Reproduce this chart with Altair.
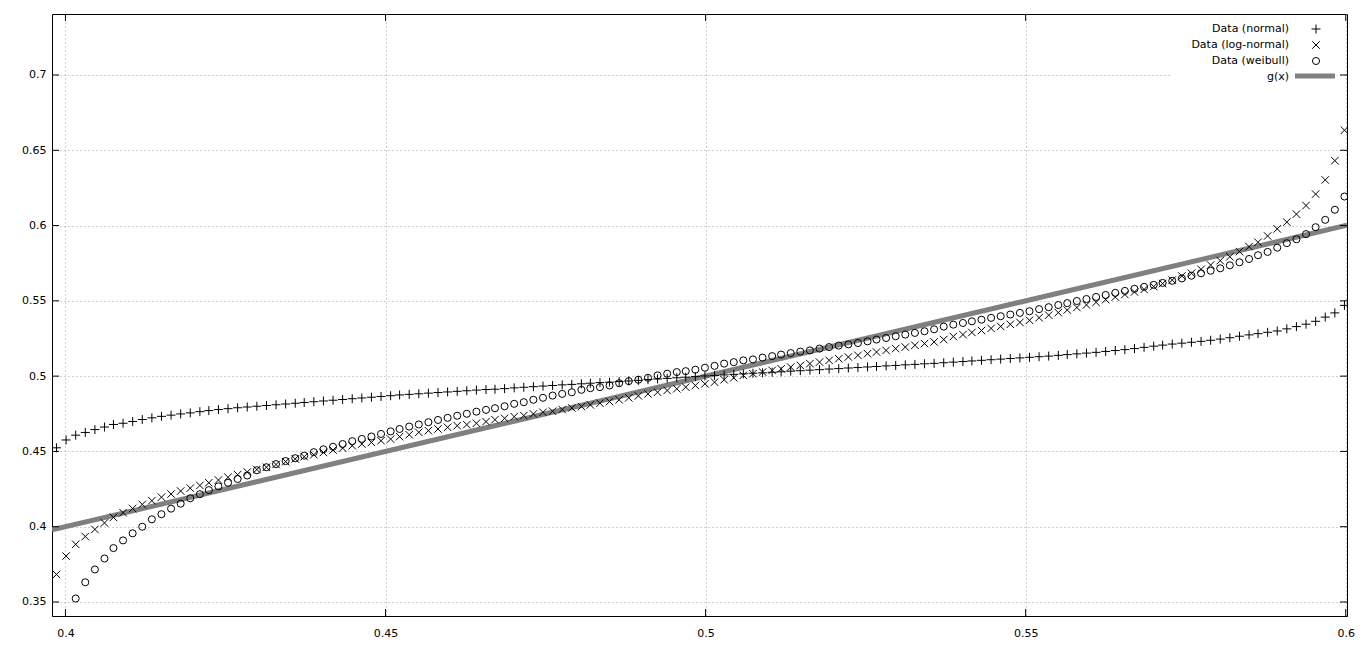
import altair as alt
import pandas as pd

# ---------------- data ----------------
x_vals = [
    0.3986, 0.4001, 0.4016, 0.4031, 0.4046, 0.4061, 0.4075, 0.4090, 0.4105, 0.4120,
    0.4135, 0.4150, 0.4165, 0.4180, 0.4195, 0.4210, 0.4224, 0.4239, 0.4254, 0.4269,
    0.4284, 0.4299, 0.4314, 0.4329, 0.4344, 0.4359, 0.4373, 0.4388, 0.4403, 0.4418,
    0.4433, 0.4448, 0.4463, 0.4478, 0.4493, 0.4508, 0.4522, 0.4537, 0.4552, 0.4567,
    0.4582, 0.4597, 0.4612, 0.4627, 0.4642, 0.4657, 0.4671, 0.4686, 0.4701, 0.4716,
    0.4731, 0.4746, 0.4761, 0.4776, 0.4791, 0.4806, 0.4820, 0.4835, 0.4850, 0.4865,
    0.4880, 0.4895, 0.4910, 0.4925, 0.4940, 0.4955, 0.4969, 0.4984, 0.4999, 0.5014,
    0.5029, 0.5044, 0.5059, 0.5074, 0.5089, 0.5104, 0.5118, 0.5133, 0.5148, 0.5163,
    0.5178, 0.5193, 0.5208, 0.5223, 0.5238, 0.5253, 0.5267, 0.5282, 0.5297, 0.5312,
    0.5327, 0.5342, 0.5357, 0.5372, 0.5387, 0.5402, 0.5416, 0.5431, 0.5446, 0.5461,
    0.5476, 0.5491, 0.5506, 0.5521, 0.5536, 0.5551, 0.5565, 0.5580, 0.5595, 0.5610,
    0.5625, 0.5640, 0.5655, 0.5670, 0.5685, 0.5700, 0.5714, 0.5729, 0.5744, 0.5759,
    0.5774, 0.5789, 0.5804, 0.5819, 0.5834, 0.5849, 0.5863, 0.5878, 0.5893, 0.5908,
    0.5923, 0.5938, 0.5953, 0.5968, 0.5983, 0.5998,
]

normal = [
    0.4524, 0.4576, 0.4608, 0.4626, 0.4645, 0.4662, 0.4679, 0.4687, 0.4699, 0.4712,
    0.4723, 0.4733, 0.4741, 0.4749, 0.4756, 0.4764, 0.4771, 0.4778, 0.4784, 0.4790,
    0.4795, 0.4800, 0.4805, 0.4810, 0.4815, 0.4820, 0.4825, 0.4830, 0.4835, 0.4840,
    0.4845, 0.4850, 0.4855, 0.4860, 0.4865, 0.4870, 0.4875, 0.4879, 0.4883, 0.4887,
    0.4891, 0.4895, 0.4899, 0.4903, 0.4907, 0.4911, 0.4913, 0.4917, 0.4922, 0.4926,
    0.4930, 0.4934, 0.4938, 0.4942, 0.4945, 0.4949, 0.4953, 0.4957, 0.4960, 0.4964,
    0.4968, 0.4972, 0.4977, 0.4981, 0.4985, 0.4989, 0.4993, 0.4997, 0.5001, 0.5005,
    0.5008, 0.5012, 0.5015, 0.5019, 0.5022, 0.5026, 0.5029, 0.5033, 0.5036, 0.5040,
    0.5043, 0.5047, 0.5050, 0.5054, 0.5057, 0.5061, 0.5064, 0.5068, 0.5071, 0.5075,
    0.5078, 0.5082, 0.5085, 0.5089, 0.5093, 0.5097, 0.5101, 0.5105, 0.5109, 0.5113,
    0.5117, 0.5121, 0.5125, 0.5129, 0.5133, 0.5138, 0.5143, 0.5148, 0.5153, 0.5158,
    0.5164, 0.5170, 0.5176, 0.5183, 0.5191, 0.5199, 0.5206, 0.5213, 0.5219, 0.5225,
    0.5231, 0.5238, 0.5246, 0.5255, 0.5265, 0.5274, 0.5282, 0.5291, 0.5300, 0.5314,
    0.5329, 0.5345, 0.5364, 0.5392, 0.5420, 0.5470,
]

lognormal = [
    0.3683, 0.3805, 0.3883, 0.3935, 0.3982, 0.4025, 0.4062, 0.4093, 0.4121, 0.4148,
    0.4173, 0.4196, 0.4217, 0.4237, 0.4256, 0.4274, 0.4292, 0.4310, 0.4328, 0.4346,
    0.4363, 0.4380, 0.4395, 0.4413, 0.4432, 0.4450, 0.4465, 0.4478, 0.4493, 0.4509,
    0.4522, 0.4538, 0.4549, 0.4560, 0.4571, 0.4582, 0.4598, 0.4611, 0.4627, 0.4638,
    0.4649, 0.4660, 0.4671, 0.4678, 0.4687, 0.4698, 0.4711, 0.4720, 0.4731, 0.4738,
    0.4749, 0.4760, 0.4767, 0.4778, 0.4789, 0.4798, 0.4809, 0.4820, 0.4831, 0.4843,
    0.4856, 0.4869, 0.4882, 0.4893, 0.4905, 0.4916, 0.4927, 0.4938, 0.4949, 0.4960,
    0.4976, 0.4989, 0.5005, 0.5016, 0.5027, 0.5038, 0.5049, 0.5060, 0.5071, 0.5083,
    0.5093, 0.5105, 0.5116, 0.5127, 0.5138, 0.5149, 0.5160, 0.5171, 0.5183, 0.5193,
    0.5205, 0.5216, 0.5227, 0.5243, 0.5263, 0.5276, 0.5290, 0.5303, 0.5317, 0.5330,
    0.5344, 0.5357, 0.5371, 0.5388, 0.5405, 0.5422, 0.5439, 0.5456, 0.5473, 0.5490,
    0.5508, 0.5525, 0.5542, 0.5559, 0.5576, 0.5595, 0.5615, 0.5638, 0.5665, 0.5683,
    0.5709, 0.5738, 0.5767, 0.5793, 0.5827, 0.5860, 0.5889, 0.5931, 0.5978, 0.6023,
    0.6076, 0.6133, 0.6209, 0.6303, 0.6431, 0.6633,
]

weibull = [
    None, None, 0.3523, 0.3631, 0.3716, 0.3789, 0.3858, 0.3909, 0.3956, 0.4000,
    0.4049, 0.4083, 0.4120, 0.4153, 0.4189, 0.4216, 0.4243, 0.4268, 0.4292, 0.4317,
    0.4340, 0.4375, 0.4395, 0.4416, 0.4436, 0.4455, 0.4472, 0.4495, 0.4514, 0.4531,
    0.4549, 0.4568, 0.4583, 0.4599, 0.4616, 0.4633, 0.4649, 0.4665, 0.4679, 0.4694,
    0.4709, 0.4723, 0.4737, 0.4750, 0.4764, 0.4776, 0.4787, 0.4800, 0.4816, 0.4827,
    0.4843, 0.4856, 0.4871, 0.4882, 0.4893, 0.4909, 0.4920, 0.4927, 0.4938, 0.4953,
    0.4967, 0.4976, 0.4989, 0.5005, 0.5016, 0.5027, 0.5033, 0.5043, 0.5056, 0.5068,
    0.5083, 0.5093, 0.5105, 0.5111, 0.5123, 0.5133, 0.5143, 0.5153, 0.5163, 0.5171,
    0.5183, 0.5193, 0.5203, 0.5211, 0.5220, 0.5231, 0.5243, 0.5253, 0.5265, 0.5276,
    0.5287, 0.5298, 0.5311, 0.5329, 0.5342, 0.5353, 0.5364, 0.5375, 0.5387, 0.5398,
    0.5409, 0.5420, 0.5431, 0.5445, 0.5458, 0.5472, 0.5485, 0.5499, 0.5512, 0.5526,
    0.5539, 0.5553, 0.5566, 0.5580, 0.5593, 0.5606, 0.5619, 0.5633, 0.5649, 0.5667,
    0.5683, 0.5700, 0.5716, 0.5736, 0.5756, 0.5778, 0.5803, 0.5825, 0.5853, 0.5883,
    0.5909, 0.5943, 0.5989, 0.6038, 0.6105, 0.6193,
]

g_x = [0.3979, 0.6002]  # g(x) = x, drawn across the whole x range
series_names = ["Data (normal)", "Data (log-normal)", "Data (weibull)", "g(x)"]
x_ticks = [0.4, 0.45, 0.5, 0.55, 0.6]
y_ticks = [0.35, 0.4, 0.45, 0.5, 0.55, 0.6, 0.65, 0.7]
x_domain = [0.3979, 0.6002]
y_domain = [0.3407, 0.7405]

# ---------------- styling ----------------
W, H = 1295, 602
FONT = "DejaVu Sans"
FS = 11
GRAY = "#808080"
TICK = 7
PLUS = "M-1,0L1,0M0,-1L0,1"
CROSS = "M-1,-1L1,1M-1,1L1,-1"

xs = alt.Scale(domain=x_domain, nice=False, zero=False)
ys = alt.Scale(domain=y_domain, nice=False, zero=False)

x_axis = alt.Axis(values=x_ticks, format=".2~f", grid=True, ticks=False, domain=False,
                  title=None, labelPadding=11, labelFont=FONT, labelFontSize=FS,
                  labelColor="black", gridColor="#a0a0a0", gridDash=[1, 3], gridWidth=1)
y_axis = alt.Axis(values=y_ticks, format=".2~f", grid=True, ticks=False, domain=False,
                  title=None, labelPadding=6, labelFont=FONT, labelFontSize=FS,
                  labelColor="black", gridColor="#a0a0a0", gridDash=[1, 3], gridWidth=1)

df = pd.DataFrame({"x": x_vals, "normal": normal, "lognormal": lognormal,
                   "weibull": weibull})
gdf = pd.DataFrame({"x": g_x, "y": g_x})
xt = pd.DataFrame({"v": x_ticks})
yt = pd.DataFrame({"v": y_ticks})

X = alt.X("x:Q", scale=xs, axis=x_axis)

g_line = alt.Chart(gdf).mark_line(color=GRAY, strokeWidth=5, clip=True).encode(
    x=X, y=alt.Y("y:Q", scale=ys, axis=y_axis))

def pts(col, shape, size):
    return alt.Chart(df).mark_point(shape=shape, size=size, filled=False, color="black",
                                    strokeWidth=1, opacity=1, clip=True).encode(
        x=X, y=alt.Y(f"{col}:Q", scale=ys, axis=y_axis))

p_norm = pts("normal", PLUS, 81)
p_logn = pts("lognormal", CROSS, 56)
p_weib = pts("weibull", "circle", 50)

# white key background (opaque key as in the reference)
one = pd.DataFrame({"a": [0]})
key_bg = alt.Chart(one).mark_rect(color="white").encode(
    x=alt.value(1118), x2=alt.value(1285), y=alt.value(6), y2=alt.value(72))

# inward tick marks on all four borders
xv = alt.X("v:Q", scale=xs, axis=x_axis)
yv = alt.Y("v:Q", scale=ys, axis=y_axis)
tick_b = alt.Chart(xt).mark_rule(color="black").encode(x=xv, y=alt.value(H - TICK), y2=alt.value(H))
tick_t = alt.Chart(xt).mark_rule(color="black").encode(x=xv, y=alt.value(0), y2=alt.value(TICK))
tick_l = alt.Chart(yt).mark_rule(color="black").encode(y=yv, x=alt.value(0), x2=alt.value(TICK))
tick_r = alt.Chart(yt).mark_rule(color="black").encode(y=yv, x=alt.value(W - TICK), x2=alt.value(W))

# key entries
legend_layers = []
row_y = [15, 31, 47, 63]
for i, name in enumerate(series_names):
    legend_layers.append(
        alt.Chart(pd.DataFrame({"label": [name]})).mark_text(
            align="right", baseline="middle", font=FONT, fontSize=FS, color="black"
        ).encode(x=alt.value(1237), y=alt.value(row_y[i]), text="label:N"))
legend_layers.append(alt.Chart(one).mark_point(shape=PLUS, size=81, filled=False, color="black",
                                               strokeWidth=1, opacity=1).encode(
    x=alt.value(1264), y=alt.value(row_y[0])))
legend_layers.append(alt.Chart(one).mark_point(shape=CROSS, size=56, filled=False, color="black",
                                               strokeWidth=1, opacity=1).encode(
    x=alt.value(1264), y=alt.value(row_y[1])))
legend_layers.append(alt.Chart(one).mark_point(shape="circle", size=50, filled=False, color="black",
                                               strokeWidth=1, opacity=1).encode(
    x=alt.value(1264), y=alt.value(row_y[2])))
legend_layers.append(alt.Chart(one).mark_rule(color=GRAY, strokeWidth=5).encode(
    x=alt.value(1243), x2=alt.value(1283), y=alt.value(row_y[3] - 1)))

chart = alt.layer(
    g_line, p_norm, p_logn, p_weib, key_bg, tick_b, tick_t, tick_l, tick_r, *legend_layers
).properties(
    width=W, height=H,
    autosize=alt.AutoSizeParams(type="none"),
    padding={"left": 44, "top": 6, "right": 10, "bottom": 24},
    background="white",
).configure_view(stroke="black", strokeWidth=1)

chart.save("out.html", embed_options={"renderer": "svg", "actions": False})
